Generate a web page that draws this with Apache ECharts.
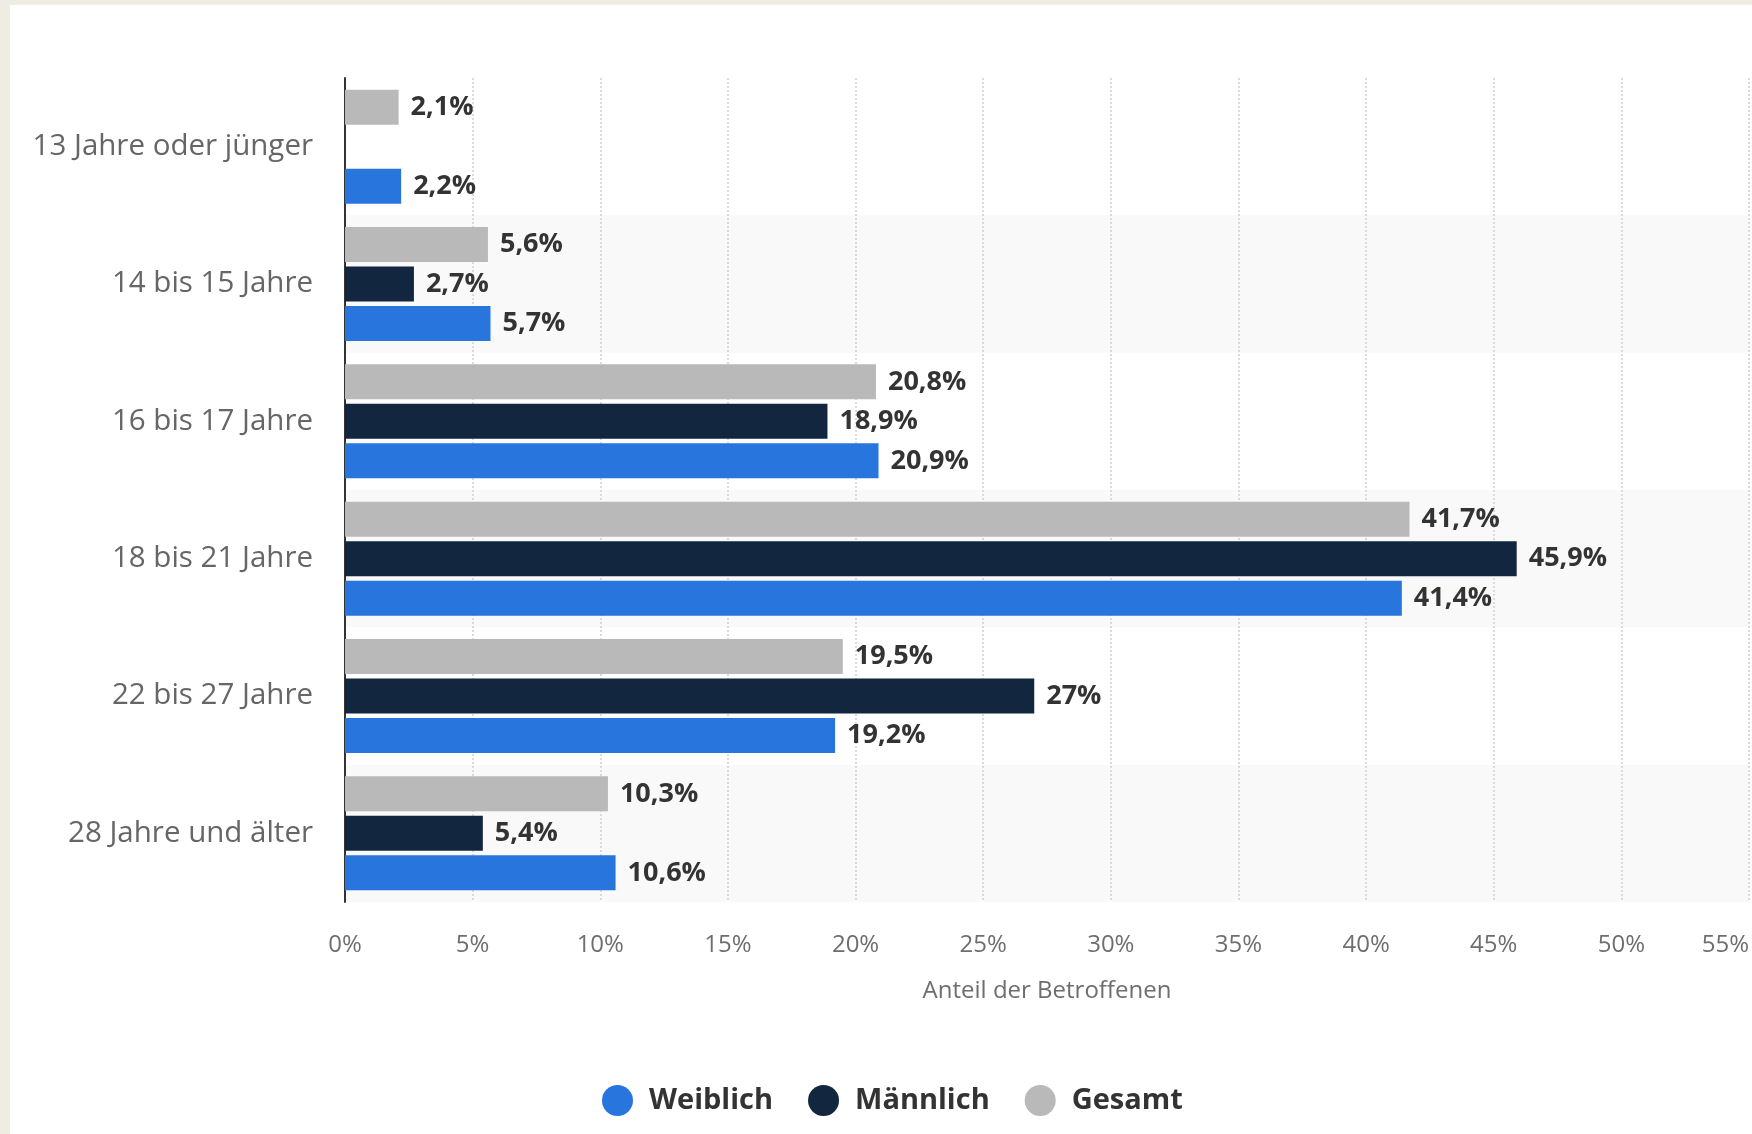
<!DOCTYPE html>
<html>
<head>
<meta charset="utf-8">
<script src="https://cdn.jsdelivr.net/npm/echarts@6/dist/echarts.min.js"></script>
<style>
  html, body { margin: 0; padding: 0; background: #efece4; width: 1752px; height: 1134px; overflow: hidden; }
  #chart { position: absolute; left: 10px; top: 5px; width: 1742px; height: 1129px; background: #ffffff; }
</style>
</head>
<body>
<div id="chart"></div>
<script>
const categories = ['13 Jahre oder jünger', '14 bis 15 Jahre', '16 bis 17 Jahre', '18 bis 21 Jahre', '22 bis 27 Jahre', '28 Jahre und älter'];
const gesamt = [2.1, 5.6, 20.8, 41.7, 19.5, 10.3];
const maennlich = [null, 2.7, 18.9, 45.9, 27, 5.4];
const weiblich = [2.2, 5.7, 20.9, 41.4, 19.2, 10.6];
const legendNames = ['Weiblich', 'Männlich', 'Gesamt'];
const colors = { Weiblich: '#2876dd', 'Männlich': '#12263f', Gesamt: '#b9b9b9' };

const fmt = v => String(v).replace('.', ',') + '%';
const labelCfg = {
  show: true, position: 'right', distance: 12,
  fontFamily: 'Open Sans', fontSize: 27, fontWeight: 'bold', color: '#333333',
  formatter: p => fmt(p.value)
};
function mk(name, data) {
  return {
    name: name, type: 'bar', data: data,
    itemStyle: { color: colors[name] },
    barCategoryGap: '17%', barGap: '13%',
    label: labelCfg
  };
}

const chart = echarts.init(document.getElementById('chart'), null, { renderer: 'canvas' });
chart.setOption({
  animation: false,
  textStyle: { fontFamily: 'Open Sans' },
  grid: { left: 335, right: 1, top: 73, bottom: 232, containLabel: false },
  legend: {
    data: legendNames, left: 587, top: 1075,
    icon: 'circle', itemWidth: 31, itemHeight: 31, itemGap: 35,
    textStyle: { fontFamily: 'Open Sans', fontSize: 29, fontWeight: 'bold', color: '#333333', padding: [0, 0, 0, 11] }
  },
  xAxis: {
    type: 'value', min: 0, max: 55, interval: 5,
    name: 'Anteil der Betroffenen', nameLocation: 'middle', nameGap: 77,
    nameTextStyle: { fontFamily: 'Open Sans', fontSize: 24, color: '#6e6e6e' },
    axisLine: { show: false }, axisTick: { show: false },
    axisLabel: { formatter: '{value}%', fontFamily: 'Open Sans', fontSize: 24, color: '#6e6e6e', margin: 31, alignMaxLabel: 'right' },
    splitLine: { show: true, lineStyle: { color: '#cfcfcf', width: 1.5, type: [2, 2] } }
  },
  yAxis: {
    type: 'category', data: categories, inverse: true,
    axisLine: { show: true, lineStyle: { color: '#333333', width: 2 } },
    axisTick: { show: false },
    axisLabel: { fontFamily: 'Open Sans', fontSize: 29.5, color: '#666666', margin: 32 },
    splitLine: { show: false },
    splitArea: { show: true, areaStyle: { color: ['rgba(255,255,255,0)', '#f9f9f9'] } }
  },
  series: [
    mk('Gesamt', gesamt),
    mk('Männlich', maennlich),
    mk('Weiblich', weiblich)
  ]
});
</script>
</body>
</html>
